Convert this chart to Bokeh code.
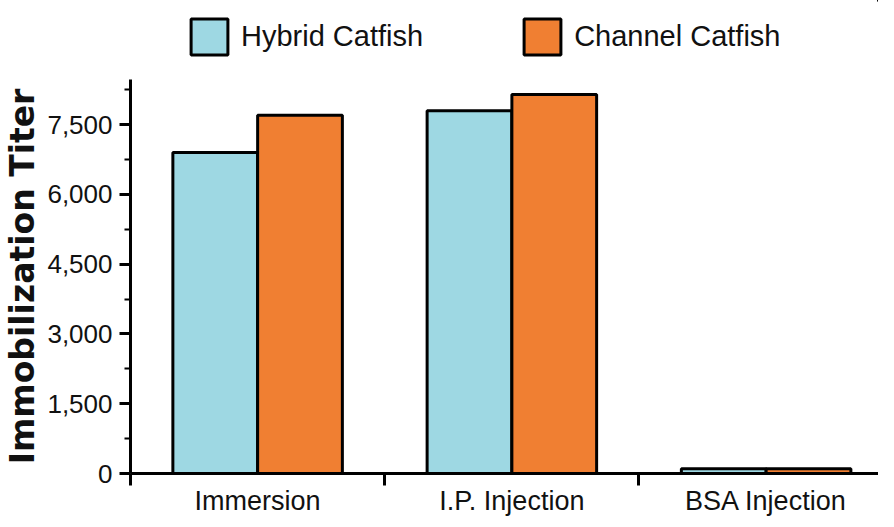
from bokeh.plotting import figure
from bokeh.layouts import column
from bokeh.models import (Range1d, FixedTicker, Legend, LegendItem, ColumnDataSource,
                          NumeralTickFormatter)
from bokeh.transform import dodge
from bokeh.embed import file_html
from bokeh.resources import INLINE

categories = ["Immersion", "I.P. Injection", "BSA Injection"]
series_names = ["Hybrid Catfish", "Channel Catfish"]
hybrid = [6900, 7800, 100]
channel = [7700, 8150, 100]
y_ticks = [0, 1500, 3000, 4500, 6000, 7500]
y_minor = [750, 2250, 3750, 5250, 6750, 8250]

BLUE = "#9ED8E3"
ORANGE = "#F07F32"

centers = [i + 0.5 for i in range(len(categories))]
src = ColumnDataSource(dict(x=centers, hybrid=hybrid, channel=channel))

TOTAL_H = 518
TOP_H = 72

# ---- legend strip on top (its frame is aligned with the chart's frame) ----
# the strip's ranges look away from the data, so only the legend shows
lg = figure(width=878, height=TOP_H, output_backend="svg", toolbar_location=None,
            x_range=Range1d(-20, -19), y_range=Range1d(-20, -19),
            x_axis_location=None, y_axis_location=None, min_border=0)
lg.grid.visible = False
lg.outline_line_color = None
d1 = lg.vbar(x="x", top="hybrid", width=0.3333, source=src,
             fill_color=BLUE, line_color="black", line_width=3)
d2 = lg.vbar(x="x", top="channel", width=0.3333, source=src,
             fill_color=ORANGE, line_color="black", line_width=3)
legend = Legend(items=[LegendItem(label=series_names[0], renderers=[d1]),
                       LegendItem(label=series_names[1], renderers=[d2])],
                orientation="horizontal", location=(56, 13),
                glyph_width=46, glyph_height=45, label_standoff=9, spacing=96,
                padding=0, margin=0, border_line_alpha=0, background_fill_alpha=0,
                label_text_font="Liberation Sans", label_text_font_size="29px",
                label_text_color="#111111")
lg.add_layout(legend, "center")

# ---- main chart ----
p = figure(width=878, height=TOTAL_H - TOP_H, output_backend="svg", toolbar_location=None,
           x_range=Range1d(0, 2.942), y_range=Range1d(0, 8470),
           min_border_left=122, min_border_right=0, min_border_top=7,
           min_border_bottom=44)
p.outline_line_color = None
p.grid.visible = False
p.background_fill_color = "white"

p.vbar(x=dodge("x", -0.1667, range=p.x_range), top="hybrid", width=0.3333,
       source=src, fill_color=BLUE, line_color="black", line_width=3)
p.vbar(x=dodge("x", 0.1667, range=p.x_range), top="channel", width=0.3333,
       source=src, fill_color=ORANGE, line_color="black", line_width=3)

ya = p.yaxis[0]
ya.ticker = FixedTicker(ticks=y_ticks, minor_ticks=y_minor)
ya.formatter = NumeralTickFormatter(format="0,0")
ya.axis_line_width = 3
ya.axis_line_color = "black"
ya.major_tick_line_width = 3
ya.major_tick_out = 11
ya.major_tick_in = 0
ya.minor_tick_line_width = 2
ya.minor_tick_out = 6
ya.minor_tick_in = 0
ya.major_label_standoff = 7
ya.major_label_text_font = "Liberation Sans"
ya.major_label_text_font_size = "26px"
ya.major_label_text_color = "#111111"
ya.axis_label = "Immobilization Titer"
ya.axis_label_text_font = "DejaVu Sans"
ya.axis_label_text_font_style = "bold"
ya.axis_label_text_font_size = "33px"
ya.axis_label_text_color = "#111111"
ya.axis_label_standoff = 2

xa = p.xaxis[0]
xa.ticker = FixedTicker(ticks=centers, minor_ticks=[0, 1, 2])
xa.major_label_overrides = {c: lab for c, lab in zip(centers, categories)}
xa.axis_line_width = 3
xa.axis_line_color = "black"
xa.major_tick_out = 0
xa.major_tick_in = 0
xa.minor_tick_line_width = 3
xa.minor_tick_out = 12
xa.minor_tick_in = 0
xa.major_label_standoff = 0
xa.major_label_text_font = "Liberation Sans"
xa.major_label_text_font_size = "27px"
xa.major_label_text_color = "#111111"

layout = column(lg, p, spacing=0)
open("out.html", "w").write(file_html(layout, INLINE))
